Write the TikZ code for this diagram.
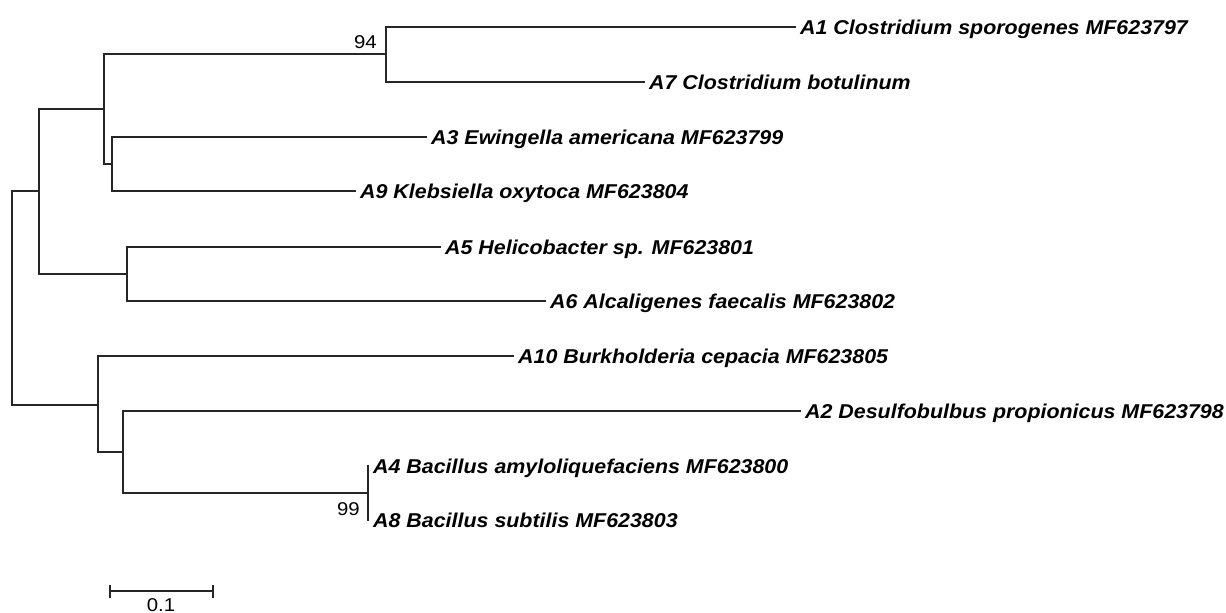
\documentclass[tikz,border=0pt]{standalone}
\usepackage{fontspec}
\setmainfont{Liberation Sans}
\newfontfamily\labfont[FakeStretch=1.07]{Liberation Sans}
\newfontfamily\numfont[FakeStretch=1.1]{Liberation Sans}
\begin{document}
\begin{tikzpicture}[x=1pt,y=-1pt,
  br/.style={draw=black!85,line width=1.5pt,line cap=rect},
  lab/.style={anchor=west,font=\labfont\fontsize{20}{24}\selectfont\bfseries\itshape,
    text height=14pt,text depth=0pt,inner xsep=5pt,inner ysep=0pt},
  boot/.style={anchor=base east,font=\numfont\fontsize{18.5}{22}\selectfont,inner sep=0pt},
  scl/.style={anchor=base,font=\numfont\fontsize{18.5}{22}\selectfont,inner sep=0pt}]
\useasboundingbox (0,0) rectangle (1226,613);
% internal nodes
\coordinate (root) at (12,298);
\coordinate (n1) at (39,191);
\coordinate (n2) at (98,405);
\coordinate (n3) at (104,109);
\coordinate (n4) at (127,274);
\coordinate (n5) at (386,54);
\coordinate (n6) at (112,164);
\coordinate (n7) at (123,452);
\coordinate (n8) at (368,493);
% tips
\node[lab] (A1) at (795,27) {A1 Clostridium sporogenes MF623797};
\node[lab] (A7) at (644,82) {A7 Clostridium botulinum};
\node[lab] (A3) at (426,137) {A3 Ewingella americana MF623799};
\node[lab] (A9) at (355,191) {A9 Klebsiella oxytoca MF623804};
\node[lab] (A5) at (440,247) {A5 Helicobacter sp. MF623801};
\node[lab] (A6) at (545,301) {A6 Alcaligenes faecalis MF623802};
\node[lab] (A10) at (513,356) {A10 Burkholderia cepacia MF623805};
\node[lab] (A2) at (800,411) {A2 Desulfobulbus propionicus MF623798};
\node[lab] (A4) at (368,466) {A4 Bacillus amyloliquefaciens MF623800};
\node[lab] (A8) at (368,520) {A8 Bacillus subtilis MF623803};
% branches
\draw[br] (root) |- (n1);
\draw[br] (root) |- (n2);
\draw[br] (n1) |- (n3);
\draw[br] (n1) |- (n4);
\draw[br] (n3) |- (n5);
\draw[br] (n3) |- (n6);
\draw[br] (n5) |- (A1.west);
\draw[br] (n5) |- (A7.west);
\draw[br] (n6) |- (A3.west);
\draw[br] (n6) |- (A9.west);
\draw[br] (n4) |- (A5.west);
\draw[br] (n4) |- (A6.west);
\draw[br] (n2) |- (A10.west);
\draw[br] (n2) |- (n7);
\draw[br] (n7) |- (A2.west);
\draw[br] (n7) |- (n8);
\draw[br] (n8) |- (A4.west);
\draw[br] (n8) |- (A8.west);
% bootstrap values
\node[boot] (b94) at (377,48) {94};
\node[boot] (b99) at (360,515) {99};
% scale bar
\coordinate (s1) at (110,591);
\coordinate (s2) at (213,591);
\draw[br,line cap=butt] (s1) -- (s2);
\draw[br,line cap=butt] ([yshift=-7pt]s1) -- ([yshift=6pt]s1);
\draw[br,line cap=butt] ([yshift=-7pt]s2) -- ([yshift=6pt]s2);
\node[scl] (sl) at (161,611) {0.1};
\end{tikzpicture}
\end{document}
